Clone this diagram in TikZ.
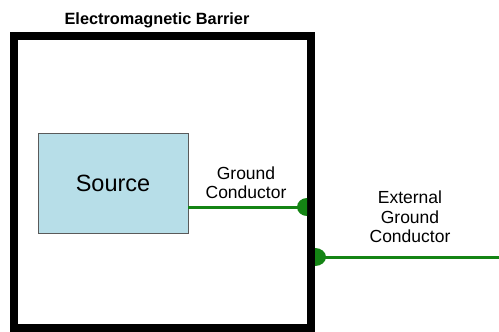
\documentclass[tikz,border=0pt]{standalone}
\usepackage{fontspec}
\setmainfont{Liberation Sans}
\definecolor{srcfill}{RGB}{183,222,232}
\definecolor{srcline}{RGB}{90,90,90}
\definecolor{gnd}{RGB}{20,132,20}
\tikzset{
  barrier/.style={draw=black, line width=8pt},
  srcbox/.style={draw=srcline, fill=srcfill, line width=0.9pt, minimum width=150pt, minimum height=100pt, inner sep=0pt, font=\fontsize{23.5}{26}\selectfont},
  wire/.style={draw=gnd, line width=3pt},
  bump/.style={fill=gnd},
  lbl/.style={align=center, inner sep=0pt, font=\fontsize{17.5}{19.5}\selectfont},
  ttl/.style={inner sep=0pt, font=\fontsize{16.3}{18}\selectfont\bfseries}
}
\begin{document}
\begin{tikzpicture}[x=1pt,y=-1pt]
\useasboundingbox (0,0) rectangle (499,332);
\draw[barrier] (14,36) rectangle (311,328);
\node[ttl, anchor=base] (title) at (157,24) {Electromagnetic Barrier};
\node[srcbox] (src) at (113,183) {Source};
% inner bump on barrier inside
\fill[bump] (307,216) arc[start angle=90, end angle=270, x radius=10, y radius=9] -- cycle;
\coordinate (g1) at (298,207);
\draw[wire] (src.east |- g1) -- (g1);
% outer bump on barrier outside
\fill[bump] (315,248) arc[start angle=270, end angle=450, x radius=11, y radius=9] -- cycle;
\coordinate (g2) at (325,257);
\coordinate (gend) at (499,257);
\draw[wire] (g2) -- (gend);
\node[lbl] (gc) at (246,182.5) {Ground\\Conductor};
\node[lbl] (egc) at (410,217) {External\\Ground\\Conductor};
\end{tikzpicture}
\end{document}
